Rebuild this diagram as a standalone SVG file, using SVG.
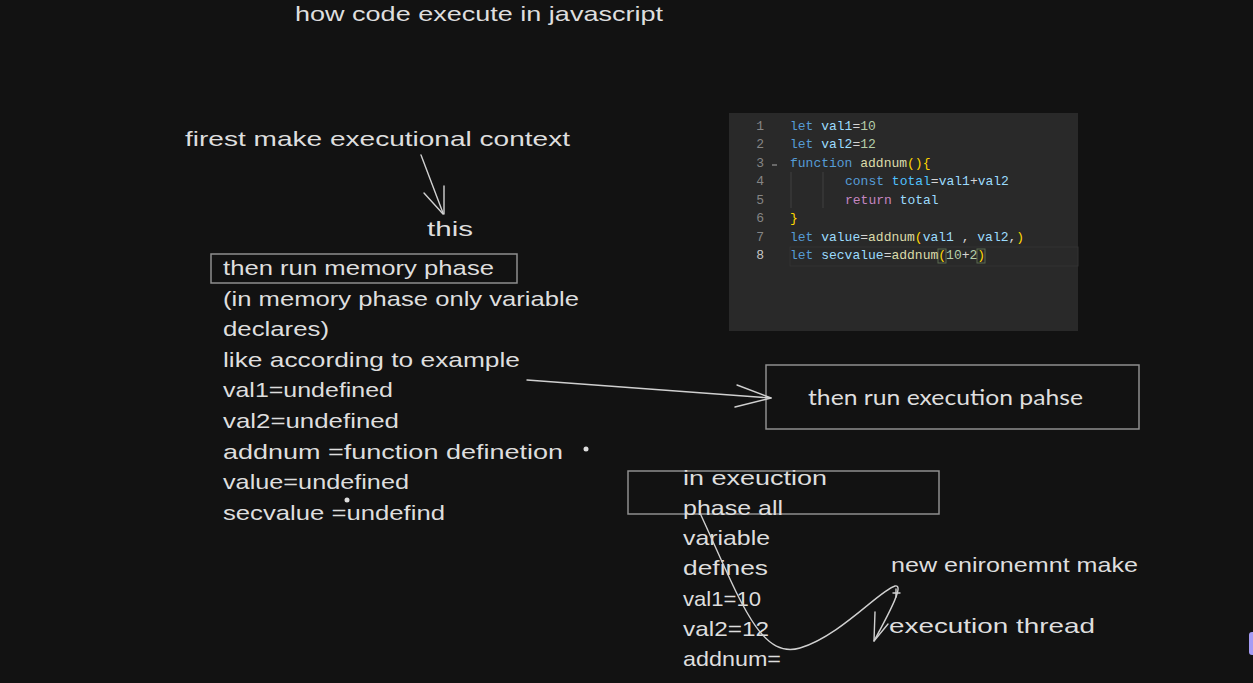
<svg xmlns="http://www.w3.org/2000/svg" width="1253" height="683" viewBox="0 0 1253 683">
<style>
.hw{font-family:"Liberation Sans","DejaVu Sans",sans-serif;font-size:21px;fill:#dedede}
.sans{font-family:Lato,"Open Sans",sans-serif;font-size:22px;fill:#dedede}
.box{fill:none;stroke:#8f8f8f;stroke-width:1.5}
.conn{fill:none;stroke:#d0d0d0;stroke-width:1.4;stroke-linecap:round;stroke-linejoin:round}
.code{font-family:"Liberation Mono","DejaVu Sans Mono",monospace;font-size:13px;fill:#d4d4d4}
.ln{font-family:"Liberation Mono","DejaVu Sans Mono",monospace;font-size:13px;fill:#858585;text-anchor:end}
.kw{fill:#569cd6}.var{fill:#9cdcfe}.num{fill:#b5cea8}.fn{fill:#dcdcaa}.br{fill:#ffd700}.cst{fill:#4fc1ff}.ret{fill:#c586c0}
</style>
<rect width="1253" height="683" fill="#121212"/>

<g id="title"><text class="hw" x="295" y="21" textLength="368" lengthAdjust="spacingAndGlyphs">how code execute in javascript</text></g>

<g id="first-context"><text class="hw" x="185" y="146" textLength="385" lengthAdjust="spacingAndGlyphs">firest make executional context</text></g>

<g id="this-label"><text class="hw" x="427" y="236" textLength="46" lengthAdjust="spacingAndGlyphs">this</text></g>

<g id="memory-phase">
<rect class="box" x="211" y="254" width="306" height="29"/>
<text class="hw" x="223" y="275" textLength="271" lengthAdjust="spacingAndGlyphs">then run memory phase</text>
</g>

<g id="memory-notes">
<text class="hw" x="223" y="306" textLength="356" lengthAdjust="spacingAndGlyphs">(in memory phase only variable</text>
<text class="hw" x="223" y="336" textLength="106" lengthAdjust="spacingAndGlyphs">declares)</text>
<text class="hw" x="223" y="367" textLength="297" lengthAdjust="spacingAndGlyphs">like according to example</text>
<text class="hw" x="223" y="397" textLength="170" lengthAdjust="spacingAndGlyphs">val1=undefined</text>
<text class="hw" x="223" y="428" textLength="176" lengthAdjust="spacingAndGlyphs">val2=undefined</text>
<text class="hw" x="223" y="459" textLength="340" lengthAdjust="spacingAndGlyphs">addnum =function definetion</text>
<text class="hw" x="223" y="489" textLength="186" lengthAdjust="spacingAndGlyphs">value=undefined</text>
<text class="hw" x="223" y="520" textLength="222" lengthAdjust="spacingAndGlyphs">secvalue =undefind</text>
<circle cx="586" cy="449" r="2.5" fill="#dedede"/>
<circle cx="347" cy="500" r="2.5" fill="#dedede"/>
</g>

<g id="code-panel">
<rect x="729" y="113" width="349" height="218" fill="#292929"/>
<rect x="790" y="247" width="288" height="19" fill="none" stroke="#333" stroke-width="1"/>
<line x1="791" y1="172" x2="791" y2="208" stroke="#404040" stroke-width="1"/>
<line x1="823" y1="172" x2="823" y2="208" stroke="#404040" stroke-width="1"/>
<line x1="772" y1="165" x2="777" y2="165" stroke="#aaa" stroke-width="1"/>
<text class="ln" x="764" y="130">1</text>
<text class="ln" x="764" y="148">2</text>
<text class="ln" x="764" y="167">3</text>
<text class="ln" x="764" y="185">4</text>
<text class="ln" x="764" y="204">5</text>
<text class="ln" x="764" y="222">6</text>
<text class="ln" x="764" y="241">7</text>
<text class="ln" x="764" y="259" fill="#c6c6c6" style="fill:#c6c6c6">8</text>
<text class="code" x="790" y="130"><tspan class="kw">let</tspan> <tspan class="var">val1</tspan>=<tspan class="num">10</tspan></text>
<text class="code" x="790" y="148"><tspan class="kw">let</tspan> <tspan class="var">val2</tspan>=<tspan class="num">12</tspan></text>
<text class="code" x="790" y="167"><tspan class="kw">function</tspan> <tspan class="fn">addnum</tspan><tspan class="br">(){</tspan></text>
<text class="code" x="845" y="185"><tspan class="kw">const</tspan> <tspan class="cst">total</tspan>=<tspan class="var">val1</tspan>+<tspan class="var">val2</tspan></text>
<text class="code" x="845" y="204"><tspan class="ret">return</tspan> <tspan class="var">total</tspan></text>
<text class="code" x="790" y="222"><tspan class="br">}</tspan></text>
<text class="code" x="790" y="241"><tspan class="kw">let</tspan> <tspan class="var">value</tspan>=<tspan class="fn">addnum</tspan><tspan class="br">(</tspan><tspan class="var">val1</tspan> , <tspan class="var">val2</tspan>,<tspan class="br">)</tspan></text>
<rect x="938" y="249" width="8" height="14" fill="none" stroke="#5a6a50" stroke-width="1"/>
<rect x="977" y="249" width="8" height="14" fill="none" stroke="#5a6a50" stroke-width="1"/>
<text class="code" x="790" y="259"><tspan class="kw">let</tspan> <tspan class="var">secvalue</tspan>=<tspan class="fn">addnum</tspan><tspan class="br">(</tspan><tspan class="num">10</tspan>+<tspan class="num">2</tspan><tspan class="br">)</tspan></text>
</g>

<g id="execution-phase">
<rect class="box" x="766" y="365" width="373" height="64"/>
<text class="sans" x="808" y="405" textLength="275" lengthAdjust="spacingAndGlyphs">then run execution pahse</text>
</g>

<g id="execution-notes">
<rect class="box" x="628" y="471" width="311" height="43"/>
<text class="hw" x="683" y="485" textLength="144" lengthAdjust="spacingAndGlyphs">in exeuction</text>
<text class="hw" x="683" y="515" textLength="100" lengthAdjust="spacingAndGlyphs">phase all</text>
<text class="hw" x="683" y="545" textLength="87" lengthAdjust="spacingAndGlyphs">variable</text>
<text class="hw" x="683" y="575" textLength="85" lengthAdjust="spacingAndGlyphs">defines</text>
<text class="hw" x="683" y="606" textLength="78" lengthAdjust="spacingAndGlyphs">val1=10</text>
<text class="hw" x="683" y="636" textLength="86" lengthAdjust="spacingAndGlyphs">val2=12</text>
<text class="hw" x="683" y="666" textLength="98" lengthAdjust="spacingAndGlyphs">addnum=</text>
</g>

<g id="new-environment"><text class="hw" x="891" y="572" textLength="247" lengthAdjust="spacingAndGlyphs">new enironemnt make</text></g>

<g id="execution-thread"><text class="hw" x="889" y="633" textLength="206" lengthAdjust="spacingAndGlyphs">execution thread</text></g>

<g id="connectors">
<path class="conn" d="M421 155 L443 213"/>
<path class="conn" d="M424 193 L443 214 M444 186 L444 214"/>
<path class="conn" d="M527 380 L771 398"/>
<path class="conn" d="M737 385 L771 398 L735 407"/>
<path class="conn" d="M700 513 C740 600 760 660 800 648 C840 636 880 590 895 586 C904 584 892 608 874 641"/>
<path class="conn" d="M875 612 L874 641 L888 624"/>
<path class="conn" d="M893 593 L900 593 M896 589 L896 597"/>
</g>

<g id="side-tab"><rect x="1249" y="632" width="10" height="23" rx="3" fill="#a59cf5"/></g>
</svg>
